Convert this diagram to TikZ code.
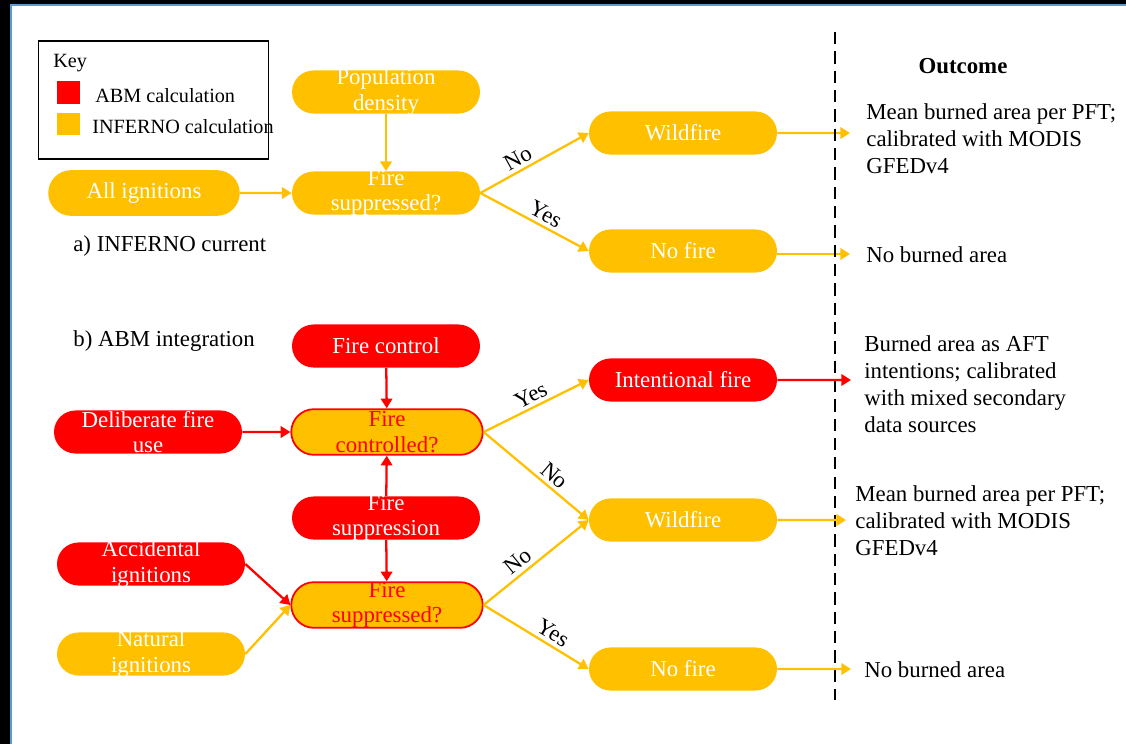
\documentclass[tikz,border=0pt]{standalone}
\usepackage{fontspec}
\setmainfont{Liberation Serif}
\usetikzlibrary{arrows.meta,positioning,shapes.misc}
\definecolor{infyellow}{HTML}{FFC000}
\definecolor{abmred}{HTML}{FF0000}
\definecolor{slideblue}{HTML}{5B9BD5}
\newcommand{\pillfont}{\fontsize{13}{14.5}\selectfont}
\newcommand{\plainfont}{\fontsize{13}{15.3}\selectfont}
\newcommand{\keyfont}{\fontsize{11.5}{13}\selectfont}

\begin{document}
\begin{tikzpicture}[x=0.02cm, y=-0.02cm, >={Triangle[length=5.5pt,width=6.5pt]},
  pill/.style={rounded rectangle, minimum width=107pt, minimum height=24.5pt, inner sep=0pt, font=\pillfont, text=white},
  abm/.style={pill, fill=abmred},
  inf/.style={pill, fill=infyellow},
  decide/.style={pill, minimum width=109pt, minimum height=26pt, fill=infyellow, draw=abmred, line width=1pt},
  twoline/.style 2 args={label={[align=center, font=\pillfont, inner sep=0pt, text=#1]center:{#2}}},
  flowy/.style={->, draw=infyellow, line width=1.3pt},
  flowr/.style={->, draw=abmred, line width=1.3pt},
  choice/.style={sloped, above, font=\plainfont, inner sep=2pt},
  outcome/.style={anchor=west, align=left, inner sep=0pt, font=\plainfont}]
\path[use as bounding box] (0,0) rectangle (1126,744);
\fill[black] (0,0) rectangle (1126,4);
\fill[black] (0,0) rectangle (10,744);
\draw[slideblue, line width=1.1pt] (11,744) -- (11,5) -- (1126,5);

% key
\node[draw, line width=1pt, minimum width=131pt, minimum height=67pt, inner sep=0pt] (keybox) at (153.5,100) {};
\node[anchor=west, inner sep=0pt, font=\keyfont] (keytitle) at (53,63) {Key};
\node[fill=abmred, minimum size=13pt, inner sep=0pt] (abmkey) at (68.5,92.5) {};
\node[fill=infyellow, minimum size=13pt, inner sep=0pt] (infkey) at (68.5,124) {};
\node[anchor=west, inner sep=0pt, font=\keyfont] (abmtext) at (95,96) {ABM calculation};
\node[anchor=west, inner sep=0pt, font=\keyfont] (inftext) at (92,127) {INFERNO calculation};

% a) INFERNO current
\node[inf, twoline={white}{Population\\density}] (popdens) at (386,92) {};
\node[inf, minimum width=109pt, minimum height=26pt] (allign) at (144,193) {All ignitions};
\node[inf, twoline={white}{Fire\\suppressed?}] (suppA) at (386,193) {};
\node[inf] (wildA) at (683,133) {Wildfire};
\node[inf] (nofireA) at (683,251) {No fire};
\node[anchor=west, font=\plainfont, inner sep=0pt] (capA) at (73,246) {a) INFERNO current};
\draw[flowy] (popdens) -- (suppA);
\draw[flowy] (allign) -- (suppA);
\draw[flowy] (suppA.east) -- node[choice, pos=0.4] {No} (wildA.west);
\draw[flowy] (suppA.east) -- node[choice, pos=0.55] {Yes} (nofireA.west);
\coordinate (endA1) at (850,133);
\coordinate (endA2) at (850,254);
\draw[flowy] (wildA) -- (endA1);
\draw[flowy] (nofireA.east |- endA2) -- (endA2);

% outcome column
\coordinate (divtop) at (835,32);
\coordinate (divbot) at (835,700);
\draw[line width=1.6pt, dash pattern=on 7pt off 4pt] (divtop) -- (divbot);
\node[font=\bfseries\plainfont] (outhead) at (963,66) {Outcome};
\node[outcome] (outA1) at (866,139) {Mean burned area per PFT;\\calibrated with MODIS\\GFEDv4};
\node[outcome] (outA2) at (866,255) {No burned area};

% b) ABM integration
\node[anchor=west, font=\plainfont, inner sep=0pt] (capB) at (73,341) {b) ABM integration};
\node[abm] (fcontrol) at (386,346) {Fire control};
\node[decide, twoline={abmred}{Fire\\controlled?}] (ctrl) at (387,432) {};
\node[abm, twoline={white}{Deliberate fire\\use}] (delib) at (148,432) {};
\node[abm, twoline={white}{Fire\\suppression}] (fsupp) at (386,518) {};
\node[abm, twoline={white}{Accidental\\ignitions}] (accid) at (151,564) {};
\node[decide, twoline={abmred}{Fire\\suppressed?}] (suppB) at (387,605) {};
\node[inf, twoline={white}{Natural\\ignitions}] (natign) at (151,654) {};
\node[abm] (intent) at (683,380) {Intentional fire};
\node[inf] (wildB) at (683,520) {Wildfire};
\node[inf] (nofireB) at (683,669) {No fire};
\draw[flowr] (fcontrol) -- (ctrl);
\draw[flowr] (delib) -- (ctrl);
\draw[flowr] (fsupp) -- (ctrl);
\draw[flowr] (fsupp) -- (suppB);
\draw[flowr] (accid.east) -- (suppB.west);
\draw[flowy] (natign.east) -- (suppB.west);
\draw[flowy] (ctrl.east) -- node[choice, pos=0.5] {Yes} (intent.west);
\draw[flowy] (ctrl.east) -- node[choice, pos=0.6] {No} (wildB.west);
\draw[flowy] (suppB.east) -- node[choice, pos=0.4] {No} (wildB.west);
\draw[flowy] (suppB.east) -- node[choice, pos=0.6] {Yes} (nofireB.west);
\coordinate (endB1) at (851,380);
\coordinate (endB2) at (846,520);
\coordinate (endB3) at (851,669);
\draw[flowr] (intent) -- (endB1);
\draw[flowy] (wildB) -- (endB2);
\draw[flowy] (nofireB) -- (endB3);
\node[outcome] (outB1) at (864,384) {Burned area as AFT\\intentions; calibrated\\with mixed secondary\\data sources};
\node[outcome] (outB2) at (855,521) {Mean burned area per PFT;\\calibrated with MODIS\\GFEDv4};
\node[outcome] (outB3) at (864,670) {No burned area};
\end{tikzpicture}
\end{document}
